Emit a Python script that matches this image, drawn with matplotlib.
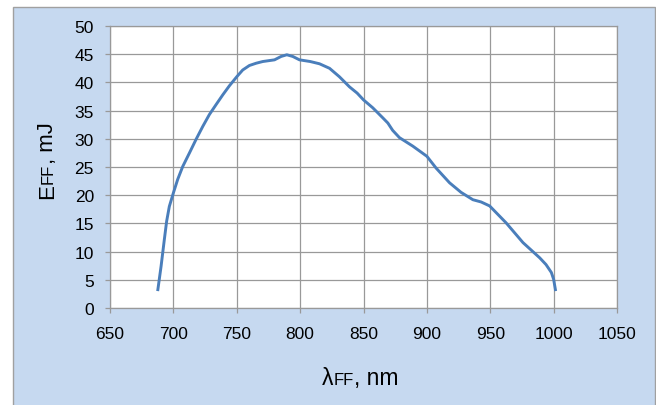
import matplotlib
matplotlib.use("Agg")
import matplotlib.pyplot as plt
from matplotlib.patches import Rectangle

# values
wavelength = [687.6, 690.3, 692.9, 694.7, 696.8, 700.0, 703.4, 707.4, 712.7, 717.9,
              723.2, 728.4, 733.5, 739.0, 744.2, 750.0, 754.7, 760.0, 765.3, 770.5,
              779.8, 785.0, 789.5, 794.2, 799.5, 808.0, 815.3, 823.2, 831.0, 839.0,
              845.0, 850.0, 857.3, 865.3, 869.2, 873.0, 878.4, 888.9, 900.0, 907.3,
              917.9, 927.0, 936.3, 942.8, 949.5, 962.5, 975.8, 989.0, 994.0, 998.2,
              1000.0, 1001.6]
energy = [3.0, 7.4, 12.2, 15.4, 18.0, 20.4, 22.8, 25.1, 27.5, 29.9,
          32.2, 34.3, 36.0, 37.8, 39.4, 41.0, 42.2, 43.0, 43.4, 43.7,
          44.0, 44.6, 44.9, 44.6, 44.0, 43.7, 43.3, 42.5, 41.0, 39.2,
          38.1, 36.9, 35.5, 33.7, 32.8, 31.5, 30.2, 28.7, 26.9, 24.8,
          22.2, 20.5, 19.2, 18.8, 18.1, 15.1, 11.6, 8.9, 7.7, 6.3,
          5.1, 3.0]

x_ticks = list(range(650, 1051, 50))
y_ticks = list(range(0, 51, 5))

W, H = 656, 406
plt.rcParams["font.family"] = ["Liberation Sans", "DejaVu Sans"]

fig = plt.figure(figsize=(W / 100, H / 100), dpi=100)
fig.patch.set_facecolor("white")

# Excel-like chart area
bg = Rectangle((13 / W, -0.01), (655 - 13) / W, (H - 8) / H + 0.01,
               transform=fig.transFigure, facecolor="#c6d9f0",
               edgecolor="#a0a0a0", linewidth=1.0, zorder=-10)
fig.patches.append(bg)

ax = fig.add_axes([110 / W, 1 - 309 / H, (617 - 110) / W, (309 - 27) / H])
ax.set_zorder(1)
ax.set_facecolor("white")
ax.plot(wavelength, energy, color="#4a7ebb", linewidth=2.1,
        solid_capstyle="butt", solid_joinstyle="round")

ax.set_xlim(650, 1050)
ax.set_ylim(0, 50)
ax.set_xticks(x_ticks)
ax.set_yticks(y_ticks)
ax.grid(True, color="#999999", linewidth=0.9)
ax.set_axisbelow(True)
for sp in ax.spines.values():
    sp.set_color("#999999")
    sp.set_linewidth(0.9)
ax.tick_params(direction="out", length=3.6, width=0.9, color="#999999",
               labelsize=12.5, labelcolor="black")
ax.tick_params(axis="y", pad=8)
ax.tick_params(axis="x", pad=9.5)


def piece_label(x, y, parts, rotation=0):
    # draws text pieces of mixed size on a common baseline, x/y in pixels
    renderer = fig.canvas.get_renderer()
    for s, size in parts:
        t = fig.text(x / W, 1 - y / H, s, fontsize=size, rotation=rotation,
                     rotation_mode="anchor", ha="left", va="baseline", zorder=2)
        bb = t.get_window_extent(renderer)
        if rotation:
            y -= bb.height
        else:
            x += bb.width


piece_label(322, 385, [("λ", 16.5), ("FF", 12), (", nm", 16.5)])
piece_label(53, 199, [("E", 16), ("FF", 12), (", mJ", 16)], rotation=90)

fig.savefig("out.png", dpi=100)
